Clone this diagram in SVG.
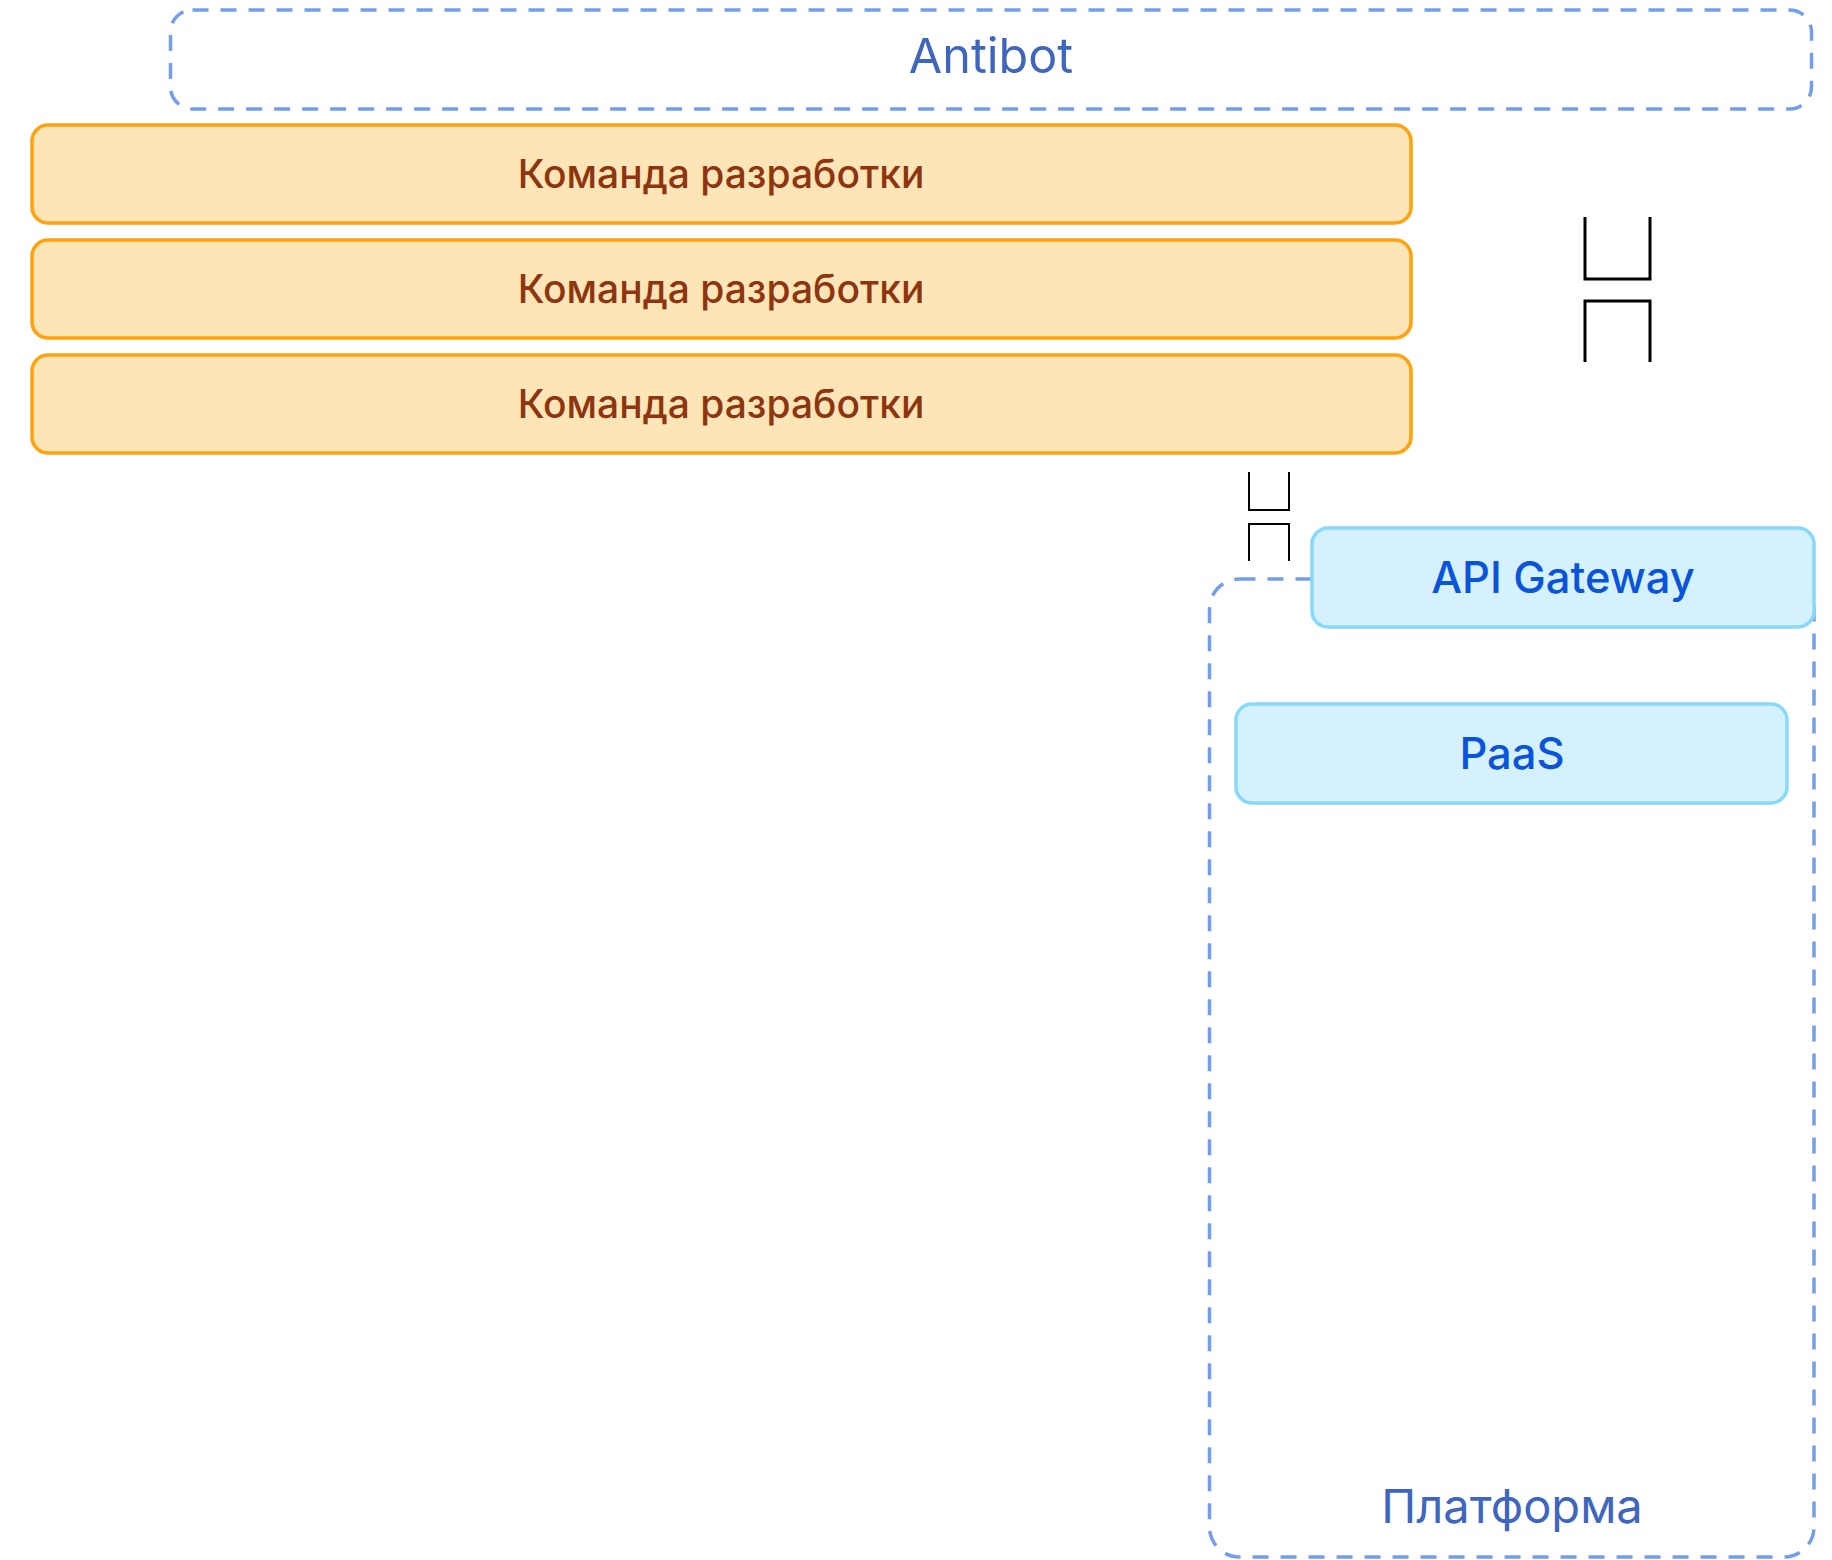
<svg xmlns="http://www.w3.org/2000/svg" width="1832" height="1560" viewBox="0 0 1832 1560">
<style>
.group{fill:none;stroke:#739EEB;stroke-width:3.5;stroke-dasharray:16 12}
.glabel{font-family:Inter,"Noto Sans",sans-serif;font-weight:400;fill:#3F66BF;text-anchor:middle}
.team rect{fill:#FEE5B8;stroke:#FFA20F;stroke-width:3.5}
.team text{font-family:Inter,"Noto Sans",sans-serif;font-weight:500;font-size:39px;fill:#8E3510;text-anchor:middle}
.svc rect{fill:#D6F1FE;stroke:#86D9FC;stroke-width:3.5}
.svc text{font-family:Inter,"Noto Sans",sans-serif;font-weight:500;font-size:43.5px;fill:#0A54DC;text-anchor:middle}
.conn{fill:none;stroke:#000}
</style>
<rect width="1832" height="1560" fill="#fff"/>
<g id="antibot">
<rect class="group" x="170.5" y="10" width="1641" height="99" rx="22"/>
<text class="glabel" x="991" y="73" font-size="48.5">Antibot</text>
</g>
<g id="platform">
<rect class="group" x="1209.5" y="579" width="604.5" height="978" rx="30"/>
<text class="glabel" x="1512" y="1523" font-size="47">Платформа</text>
</g>
<g id="team1" class="team">
<rect x="32" y="125" width="1379" height="98" rx="16"/>
<text x="721" y="188">Команда разработки</text>
</g>
<g id="team2" class="team">
<rect x="32" y="240" width="1379" height="98" rx="16"/>
<text x="721" y="303">Команда разработки</text>
</g>
<g id="team3" class="team">
<rect x="32" y="355" width="1379" height="98" rx="16"/>
<text x="721" y="418">Команда разработки</text>
</g>
<g id="api-gateway" class="svc">
<rect x="1312" y="528" width="502" height="99" rx="16"/>
<text x="1563" y="593">API Gateway</text>
</g>
<g id="paas" class="svc">
<rect x="1236" y="704" width="551" height="99" rx="16"/>
<text x="1512" y="769">PaaS</text>
</g>
<g id="connectors">
<polyline class="conn" stroke-width="3" points="1585,217 1585,279 1650,279 1650,217"/>
<polyline class="conn" stroke-width="3" points="1585,362 1585,301 1650,301 1650,362"/>
<polyline class="conn" stroke-width="2" points="1249,472 1249,510 1289,510 1289,472"/>
<polyline class="conn" stroke-width="2" points="1249,561 1249,524 1289,524 1289,561"/>
</g>
</svg>
